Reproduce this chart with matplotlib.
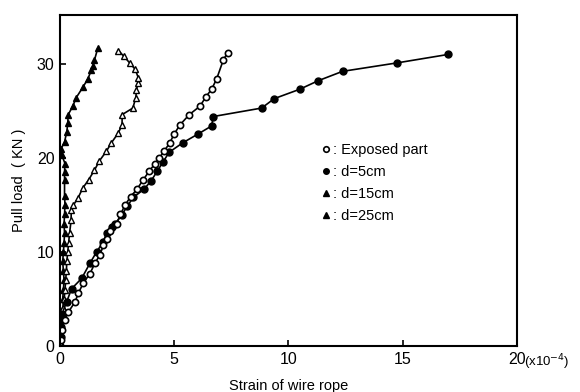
import matplotlib
matplotlib.use("Agg")
import matplotlib.pyplot as plt
from matplotlib.lines import Line2D

plt.rcParams['font.family'] = ['Liberation Sans', 'DejaVu Sans']

# Exposed part (open circles)
exp_x = [0, 0.05, 0.07, 0.22, 0.36, 0.66, 0.8, 1.02, 1.31, 1.53, 1.75, 1.9, 2.04, 2.2, 2.48,
         2.65, 2.85, 3.1, 3.38, 3.65, 3.91, 4.16, 4.35, 4.55, 4.81, 4.99, 5.25, 5.66, 6.13,
         6.39, 6.64, 6.86, 7.15, 7.34]
exp_y = [0, 0.6, 1.7, 2.8, 3.6, 4.7, 5.6, 6.7, 7.7, 8.8, 9.7, 10.7, 11.4, 12.2, 13.0,
         14.0, 15.0, 15.9, 16.7, 17.7, 18.6, 19.4, 20.0, 20.7, 21.6, 22.5, 23.5, 24.6, 25.5,
         26.5, 27.3, 28.4, 30.4, 31.2]

# d = 5 cm (filled circles)
d5_x = [0, 0.03, 0.05, 0.07, 0.29, 0.51, 0.95, 1.31, 1.6, 1.9, 2.04, 2.26, 2.41, 2.7, 2.95,
        3.21, 3.69, 4.0, 4.26, 4.52, 4.78, 5.37, 6.05, 6.64, 6.71, 8.83, 9.38, 10.5, 11.3,
        12.37, 14.76, 17.0]
d5_y = [0, 1.0, 2.0, 3.3, 4.7, 6.1, 7.2, 8.8, 10.0, 11.1, 12.0, 12.7, 13.0, 13.9, 14.9,
        15.8, 16.7, 17.6, 18.6, 19.6, 20.6, 21.6, 22.55, 23.4, 24.4, 25.3, 26.3, 27.3, 28.2,
        29.2, 30.1, 31.0]

# d = 15 cm (open triangles)
d15_x = [0, 0.05, 0.1, 0.12, 0.15, 0.18, 0.22, 0.25, 0.28, 0.3, 0.34, 0.38, 0.42, 0.49,
         0.49, 0.59, 0.78, 1.0, 1.26, 1.51, 1.73, 2.03, 2.25, 2.54, 2.72, 2.72, 3.19, 3.32,
         3.35, 3.41, 3.43, 3.3, 3.05, 2.8, 2.56]
d15_y = [0, 1.0, 2.0, 3.0, 4.0, 5.0, 6.0, 7.0, 8.0, 9.0, 10.0, 11.0, 12.0, 13.4,
         14.5, 15.0, 15.7, 16.8, 17.7, 18.7, 19.7, 20.7, 21.6, 22.6, 23.5, 24.6, 25.3, 26.4,
         27.2, 28.0, 28.5, 29.4, 30.1, 30.8, 31.4]

# d = 25 cm (filled triangles)
d25_x = [0, 0.03, 0.08, 0.12, 0.15, 0.12, 0.15, 0.18, 0.15, 0.12, 0.15, 0.18, 0.2, 0.18,
         0.2, 0.22, 0.2, 0.2, 0.2, 0.22, 0.08, 0.05, 0.2, 0.3, 0.34, 0.36, 0.56, 0.71, 1.0,
         1.22, 1.37, 1.44, 1.51, 1.66]
d25_y = [0, 1.0, 2.0, 3.0, 4.0, 5.0, 6.0, 7.0, 8.0, 9.0, 10.0, 11.0, 12.0, 13.0,
         14.0, 15.0, 16.0, 17.7, 18.5, 19.4, 20.3, 21.0, 21.7, 22.8, 23.7, 24.6, 25.5, 26.4, 27.5,
         28.4, 29.3, 29.8, 30.4, 31.7]

labels = [': Exposed part', ': d=5cm', ': d=15cm', ': d=25cm']
x_ticks = [0, 5, 10, 15, 20]
y_ticks = [0, 10, 20, 30]

fig = plt.figure(figsize=(5.8, 3.92), dpi=100)
ax = fig.add_axes([0.1034, 0.117, 0.7876, 0.845])

lw = 1.2
ms = 4.2
ax.plot(d25_x, d25_y, color='black', lw=lw, marker='^', ms=ms, mfc='black', mec='black')
ax.plot(d15_x, d15_y, color='black', lw=lw, marker='^', ms=ms, mfc='white', mec='black', mew=1.0)
ax.plot(d5_x, d5_y, color='black', lw=lw, marker='o', ms=ms + 0.8, mfc='black', mec='black')
ax.plot(exp_x, exp_y, color='black', lw=lw, marker='o', ms=ms + 0.3, mfc='white', mec='black', mew=1.2)

ax.set_xlim(0, 20)
ax.set_ylim(0, 35.2)
ax.set_xticks(x_ticks)
ax.set_yticks(y_ticks)
ax.set_xticklabels([str(t) for t in x_ticks])
ax.set_yticklabels([str(t) for t in y_ticks])
ax.tick_params(direction='in', length=4, width=1.2, labelsize=11.5, pad=4)
for s in ax.spines.values():
    s.set_linewidth(1.5)

ax.set_xlabel('Strain of wire rope', fontsize=10.5, labelpad=9)
ax.set_ylabel('Pull load  ( KN )', fontsize=10.5, labelpad=8)
ax.text(1.016, -0.05, r'(x10$^{-4}$)', transform=ax.transAxes, fontsize=9.5,
        ha='left', va='center')

handles = [
    Line2D([], [], ls='none', marker='o', ms=4, mfc='white', mec='black', mew=1.2),
    Line2D([], [], ls='none', marker='o', ms=4, mfc='black', mec='black'),
    Line2D([], [], ls='none', marker='^', ms=4, mfc='black', mec='black'),
    Line2D([], [], ls='none', marker='^', ms=4, mfc='black', mec='black'),
]
ax.legend(handles, labels, loc='upper left', bbox_to_anchor=(0.56, 0.63), frameon=False,
          handlelength=0.6, handletextpad=0.2, labelspacing=0.55, fontsize=10.5,
          borderaxespad=0)

fig.savefig('out.png', dpi=100)
